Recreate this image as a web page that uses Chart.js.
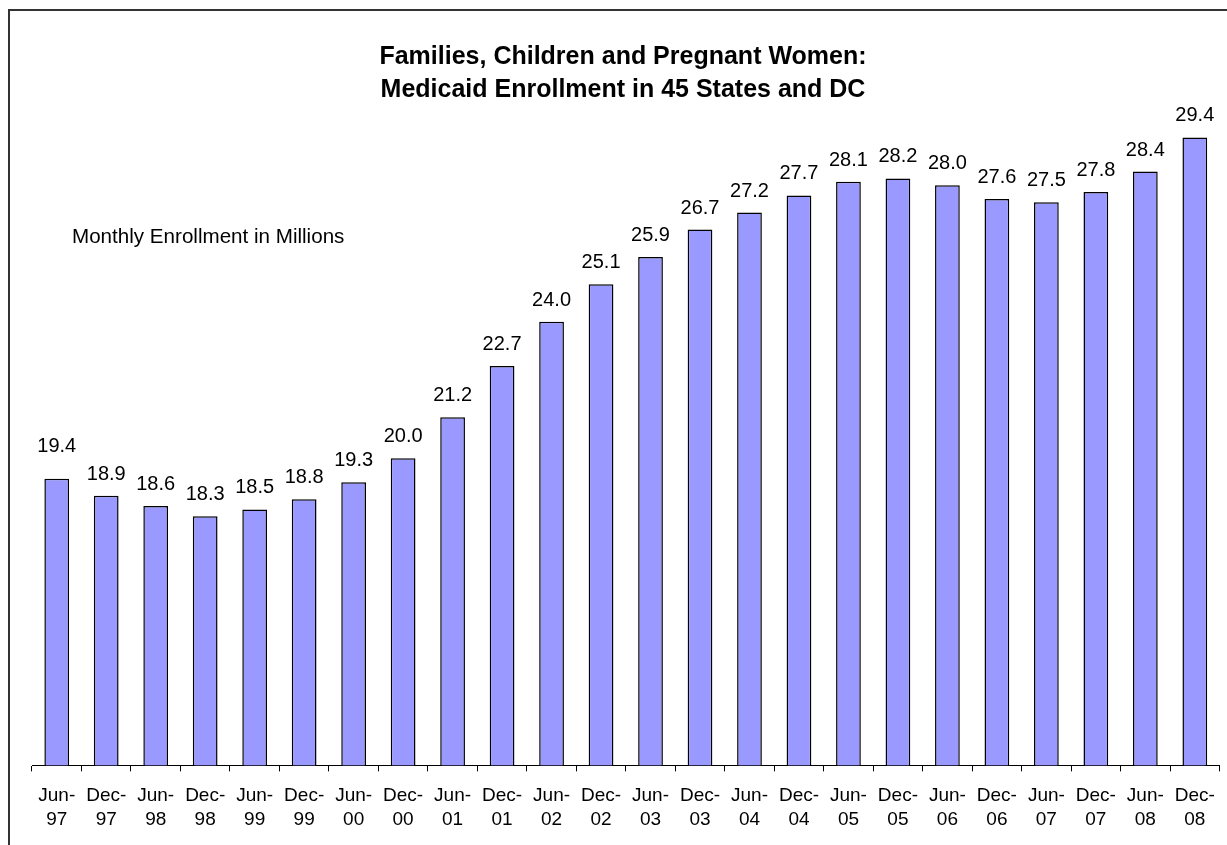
<!DOCTYPE html>
<html>
<head>
<meta charset="utf-8">
<script src="https://cdn.jsdelivr.net/npm/chart.js@4.4.1/dist/chart.umd.min.js"></script>
<style>
  html, body { margin: 0; padding: 0; background: #fff; }
  #wrap { width: 1227px; height: 845px; }
</style>
</head>
<body>
<div id="wrap"><canvas id="chart" width="1227" height="845"></canvas></div>
<script>
// half-year snapshots, enrollment in millions
const months = ['Jun-', 'Dec-', 'Jun-', 'Dec-', 'Jun-', 'Dec-', 'Jun-', 'Dec-', 'Jun-', 'Dec-', 'Jun-', 'Dec-',
                'Jun-', 'Dec-', 'Jun-', 'Dec-', 'Jun-', 'Dec-', 'Jun-', 'Dec-', 'Jun-', 'Dec-', 'Jun-', 'Dec-'];
const years = ['97', '97', '98', '98', '99', '99', '00', '00', '01', '01', '02', '02',
               '03', '03', '04', '04', '05', '05', '06', '06', '07', '07', '08', '08'];
const enrollment = [19.4, 18.9, 18.6, 18.3, 18.5, 18.8, 19.3, 20.0, 21.2, 22.7, 24.0, 25.1,
                    25.9, 26.7, 27.2, 27.7, 28.1, 28.2, 28.0, 27.6, 27.5, 27.8, 28.4, 29.4];
const titleLines = ['Families, Children and Pregnant Women:', 'Medicaid Enrollment in 45 States and DC'];
const unitNote = 'Monthly Enrollment in Millions';

const FONT = '"Liberation Sans", Arial, Helvetica, sans-serif';

const decor = {
  id: 'decor',
  beforeDraw(chart) {
    const ctx = chart.ctx;
    ctx.save();
    ctx.fillStyle = '#fff';
    ctx.fillRect(0, 0, chart.width, chart.height);
    ctx.strokeStyle = '#333';
    ctx.lineWidth = 2;
    ctx.strokeRect(9, 10, 1260, 900);
    ctx.restore();
  },
  afterDraw(chart) {
    const ctx = chart.ctx;
    ctx.save();
    ctx.fillStyle = '#000';
    ctx.textAlign = 'center';
    ctx.textBaseline = 'alphabetic';
    ctx.font = 'bold 25px ' + FONT;
    ctx.fillText(titleLines[0], 623, 64);
    ctx.fillText(titleLines[1], 623, 97);
    ctx.textAlign = 'left';
    ctx.font = '20.6px ' + FONT;
    ctx.fillText(unitNote, 72, 243);
    ctx.restore();
  },
  afterDatasetsDraw(chart) {
    const ctx = chart.ctx;
    const meta = chart.getDatasetMeta(0);
    ctx.save();
    ctx.fillStyle = '#000';
    ctx.font = '20px ' + FONT;
    ctx.textAlign = 'center';
    ctx.textBaseline = 'alphabetic';
    meta.data.forEach((bar, i) => {
      const lift = i === 0 ? 27 : 16;
      ctx.fillText(enrollment[i].toFixed(1), bar.x, bar.y - lift);
    });
    ctx.restore();
  }
};

new Chart(document.getElementById('chart'), {
  type: 'bar',
  data: {
    labels: months.map((m, i) => [m, years[i]]),
    datasets: [{
      data: enrollment,
      backgroundColor: '#9999FF',
      borderColor: '#000',
      borderWidth: 1.5,
      categoryPercentage: 1.0,
      barPercentage: 0.5
    }]
  },
  options: {
    responsive: false,
    animation: false,
    devicePixelRatio: 1,
    layout: { padding: { top: 117, left: 32, right: 6, bottom: 1 } },
    plugins: {
      legend: { display: false },
      title: { display: false },
      tooltip: { enabled: false }
    },
    scales: {
      x: {
        offset: true,
        grid: {
          display: true,
          offset: true,
          drawOnChartArea: false,
          drawTicks: true,
          tickLength: 6,
          color: '#000'
        },
        border: { display: true, color: '#000', width: 1 },
        ticks: {
          color: '#000',
          font: { family: FONT, size: 19, lineHeight: 1.28 },
          padding: 12,
          maxRotation: 0,
          autoSkip: false
        }
      },
      y: {
        display: false,
        min: 11,
        max: 30
      }
    }
  },
  plugins: [decor]
});
</script>
</body>
</html>
